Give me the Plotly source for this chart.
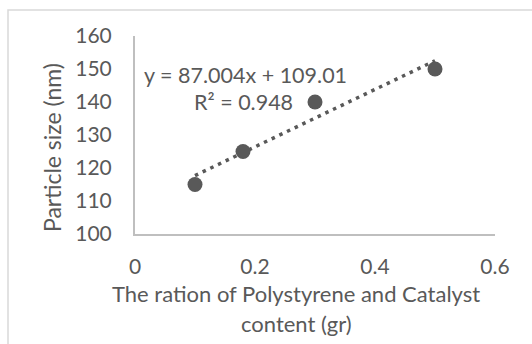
import numpy as np
import plotly.graph_objects as go

# Data
ratio = [0.1, 0.18, 0.3, 0.5]
particle_size = [115, 125, 140, 150]
x_ticks = [0, 0.2, 0.4, 0.6]
y_ticks = [100, 110, 120, 130, 140, 150, 160]
eq_line1 = "y = 87.004x + 109.01"
eq_line2 = "R² = 0.948"
x_title_1 = "The ration of Polystyrene and Catalyst"
x_title_2 = "content (gr)"
y_title = "Particle size (nm)"

# Linear trendline fitted to the data
slope, intercept = np.polyfit(ratio, particle_size, 1)
trend_x = [min(ratio), max(ratio)]
trend_y = [slope * v + intercept for v in trend_x]

TXT = "#595959"
FONT = "Lato, 'Open Sans', sans-serif"
FS_TICK = 21
FS_EQ = 21.5
FS_XT = 22
FS_YT = 23

fig = go.Figure()
fig.add_trace(go.Scatter(
    x=trend_x, y=trend_y, mode="lines",
    line=dict(color="#595959", width=3.5, dash="3.5px,5px"),
    hoverinfo="skip", showlegend=False,
))
fig.add_trace(go.Scatter(
    x=ratio, y=particle_size, mode="markers",
    marker=dict(color="#595959", size=15),
    showlegend=False,
))

W, H = 532, 344
L, R, T, B = 135, 37, 36, 110
pw = W - L - R
ph = H - T - B

def px(xp):
    return (xp - L) / pw

def py(yp):
    return (H - B - yp) / ph

fig.update_layout(
    width=W, height=H,
    margin=dict(l=L, r=R, t=T, b=B, pad=0),
    paper_bgcolor="white", plot_bgcolor="white",
    font=dict(family=FONT, size=FS_TICK, color=TXT),
    xaxis=dict(
        range=[0, 0.6], tickvals=x_ticks, ticktext=[f"{v:g}" for v in x_ticks],
        showgrid=False, zeroline=False, showline=True,
        linecolor="#bfbfbf", linewidth=2, ticks="", ticklabelstandoff=13,
        tickfont=dict(size=FS_TICK, color=TXT),
    ),
    yaxis=dict(
        range=[100, 160], tickvals=y_ticks,
        showgrid=False, zeroline=False, showline=True,
        linecolor="#bfbfbf", linewidth=2, ticks="", ticklabelstandoff=17,
        tickfont=dict(size=FS_TICK, color=TXT),
    ),
    shapes=[dict(
        type="rect", xref="paper", yref="paper",
        x0=px(8), x1=px(584), y0=py(10), y1=py(420),
        line=dict(color="#d9d9d9", width=1.5), layer="below",
    )],
    annotations=[
        dict(text=eq_line1, xref="paper", yref="paper", x=px(245), y=py(75),
             showarrow=False, xanchor="center", yanchor="middle",
             font=dict(size=FS_EQ, color=TXT)),
        dict(text=eq_line2, xref="paper", yref="paper", x=px(243), y=py(102),
             showarrow=False, xanchor="center", yanchor="middle",
             font=dict(size=FS_EQ, color=TXT)),
        dict(text=x_title_1, xref="paper", yref="paper", x=px(296), y=py(293),
             showarrow=False, xanchor="center", yanchor="middle",
             font=dict(size=FS_XT, color=TXT)),
        dict(text=x_title_2, xref="paper", yref="paper", x=px(296), y=py(323),
             showarrow=False, xanchor="center", yanchor="middle",
             font=dict(size=FS_XT, color=TXT)),
        dict(text=y_title, xref="paper", yref="paper", x=px(52), y=py(148),
             showarrow=False, xanchor="center", yanchor="middle", textangle=-90,
             font=dict(size=FS_YT, color=TXT)),
    ],
)

fig.write_html("out.html")
